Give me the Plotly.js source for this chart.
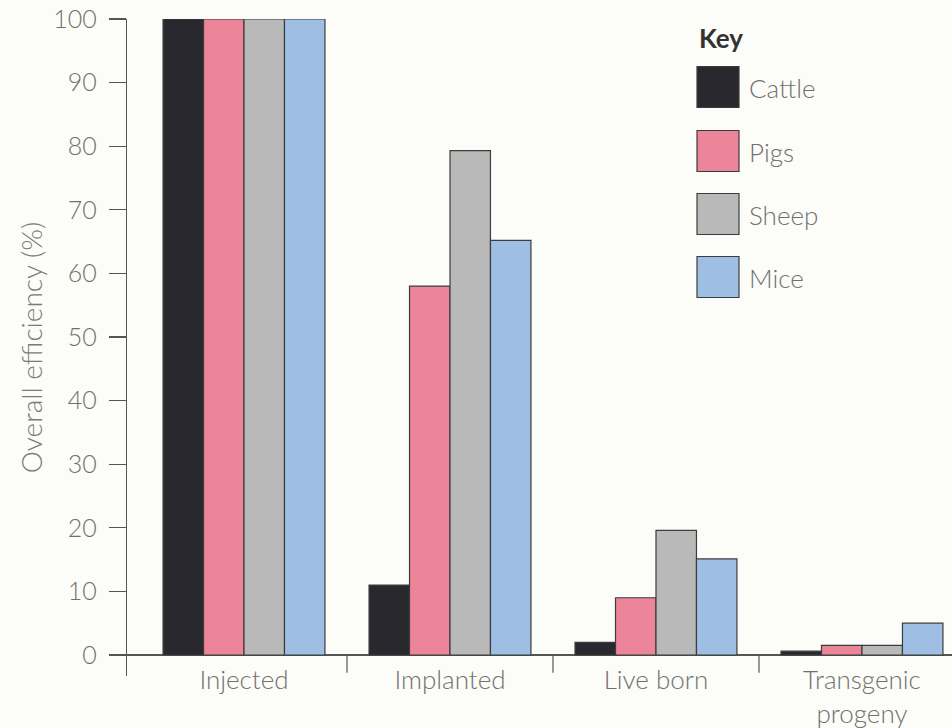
<!DOCTYPE html>
<html><head><meta charset="utf-8">
<script src="https://cdn.plot.ly/plotly-3.0.1.min.js"></script>
<style>html,body{margin:0;padding:0;background:#fcfcf8;}#chart{width:952px;height:728px;}</style>
</head><body><div id="chart"></div>
<script>
const categories = ["Injected", "Implanted", "Live born", "Transgenic<br>progeny"];
const seriesNames = ["Cattle", "Pigs", "Sheep", "Mice"];
const cattle = [100, 11, 2, 0.6];
const pigs   = [100, 58, 9, 1.5];
const sheep  = [100, 79.3, 19.6, 1.5];
const mice   = [100, 65.2, 15.1, 5];
const colors = ["#28282e", "#ec8599", "#b9b9b9", "#9ebfe3"];
const yTicks = [0,10,20,30,40,50,60,70,80,90,100];

const FONT = "Lato, 'Open Sans', sans-serif";
const values = [cattle, pigs, sheep, mice];
const traces = values.map((v, i) => ({
  type: "bar", x: categories, y: v, name: seriesNames[i],
  marker: {color: colors[i], line: {color: "#3c3c3c", width: 1.2}},
  showlegend: false, hoverinfo: "x+y+name"
}));

const W = 825, H = 657, L = 127, T = 19;
const px = p => (p - L) / W;
const py = p => (T + H - p) / H;

const shapes = [];
// category divider ticks under the axis
for (let i = 0; i < categories.length - 1; i++) {
  shapes.push({type: "line", xref: "x", yref: "y", x0: i + 0.5, x1: i + 0.5, y0: -2.8, y1: 0,
    line: {color: "#555", width: 1.2}});
}
const annotations = [{
  xref: "paper", yref: "paper", x: px(697), y: py(38), xanchor: "left", yanchor: "middle",
  text: "<b>Key</b>", showarrow: false, font: {family: FONT, size: 26, color: "#333"}
}];
const centers = [87, 151, 214, 277];
seriesNames.forEach((n, i) => {
  shapes.push({type: "rect", xref: "paper", yref: "paper",
    x0: px(697), x1: px(739), y0: py(centers[i] + 20.5), y1: py(centers[i] - 20.5),
    fillcolor: colors[i], line: {color: "#3c3c3c", width: 1.2}});
  annotations.push({xref: "paper", yref: "paper", x: px(747), y: py(centers[i] + 1), xanchor: "left", yanchor: "middle",
    text: n, showarrow: false, font: {family: FONT, size: 26, color: "#707070", weight: 300}});
});

const layout = {
  width: 952, height: 728,
  margin: {l: L, r: 0, t: T, b: 728 - T - H},
  paper_bgcolor: "#fcfcf8", plot_bgcolor: "#fcfcf8",
  font: {family: FONT, color: "#707070"},
  barmode: "group", bargap: 0.214, bargroupgap: 0,
  xaxis: {type: "category", range: [-0.568, 3.437], showline: false, ticks: "",
    showgrid: false, zeroline: false, tickfont: {size: 26, color: "#707070", weight: 300},
    ticklabelstandoff: -14},
  yaxis: {range: [-3.3, 100], tickvals: yTicks, showline: true, linecolor: "#555", linewidth: 1.2,
    ticks: "outside", ticklen: 17, tickcolor: "#555", tickwidth: 1.2, showgrid: false,
    zeroline: true, zerolinecolor: "#555", zerolinewidth: 1.4,
    tickfont: {size: 25, color: "#707070", weight: 300}, ticklabelstandoff: 7,
    title: {text: "Overall efficiency (%)", font: {size: 28, color: "#7a7a7a", weight: 300}, standoff: 2}},
  shapes: shapes, annotations: annotations
};
Plotly.newPlot("chart", traces, layout, {displayModeBar: false, staticPlot: true});
</script></body></html>
